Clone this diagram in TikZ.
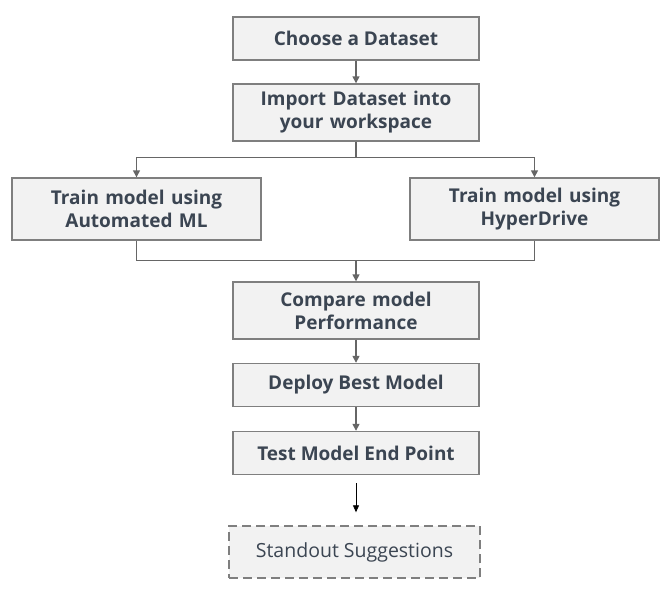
\documentclass[tikz,border=0pt]{standalone}
\usepackage{fontspec}
\setmainfont{Open Sans}
\usepackage{tikz}
\usetikzlibrary{arrows.meta, positioning, calc}
\definecolor{boxfill}{HTML}{F2F2F2}
\definecolor{boxline}{HTML}{7F7F7F}
\definecolor{boxtext}{HTML}{3B4552}
\definecolor{linkgray}{HTML}{666666}
\tikzstyle{process} = [rectangle, minimum width=246pt, minimum height=43pt, text centered, draw=boxline, line width=1.4pt, fill=boxfill, text=boxtext, font=\fontsize{19}{23}\selectfont\bfseries]
\tikzstyle{train} = [process, minimum width=249pt, minimum height=62pt]
\tikzstyle{suggest} = [rectangle, minimum width=251pt, minimum height=52pt, text centered, draw=boxline, line width=1.4pt, dash pattern=on 9pt off 5pt, fill=boxfill, text=boxtext, font=\fontsize{19.5}{23}\selectfont]
\tikzstyle{arrow} = [line width=1.4pt, draw=linkgray, -{Triangle[width=7pt,length=7pt]}]
\tikzstyle{link} = [line width=1.4pt, draw=linkgray]

\begin{document}
\begin{tikzpicture}[node distance=74pt, x=1pt, y=1pt]
        \useasboundingbox (0,0) rectangle (671,-595);
        % preparing the data
        \node[process] (Choose) at (356,-38.5) {Choose a Dataset};
        \node[process, below of = Choose, minimum height=57pt, text width=230pt] (Import) {Import Dataset into\\your workspace};
        \draw [arrow] (Choose) -- (Import);

        % training
        \node[train, below of = Import, xshift=-219.5pt, yshift=-22.5pt, text width=230pt] (TrainAutoML) {Train model using\\Automated ML};
        \node[train, below of = Import, xshift=178.5pt, yshift=-22.5pt, text width=230pt] (TrainHyper) {Train model using\\HyperDrive};
        \coordinate (Split) at ($(Import.south)+(0,-16)$);
        \draw [link] (Import) -- (Split);
        \draw [arrow] (Split) -| (TrainAutoML);
        \draw [arrow] (Split) -| (TrainHyper);

        % comparing and deploying
        \node[process, below of = Import, yshift=-124pt, minimum height=57pt, text width=230pt] (Compare) {Compare model\\Performance};
        \coordinate (Merge) at ($(Compare.north)+(0,21)$);
        \draw [link] (TrainAutoML) |- (Merge);
        \draw [link] (TrainHyper) |- (Merge);
        \draw [arrow] (Merge) -- (Compare);

        \node[process, below of = Compare, yshift=-0.5pt] (Deploy) {Deploy Best Model};
        \draw [arrow] (Compare) -- (Deploy);
        \node[process, below of = Deploy, yshift=6pt] (Test) {Test Model End Point};
        \draw [arrow] (Deploy) -- (Test);

        % suggestions
        \node[suggest, below of = Test, xshift=-1.5pt, yshift=-25pt] (Standout) {Standout Suggestions};
        \draw [-{Triangle[width=6pt,length=7pt]}, line width=0.8pt, black, shorten >=13pt, shorten <=8pt] (Test) -- (Test |- Standout.north);
    \end{tikzpicture}
\end{document}
